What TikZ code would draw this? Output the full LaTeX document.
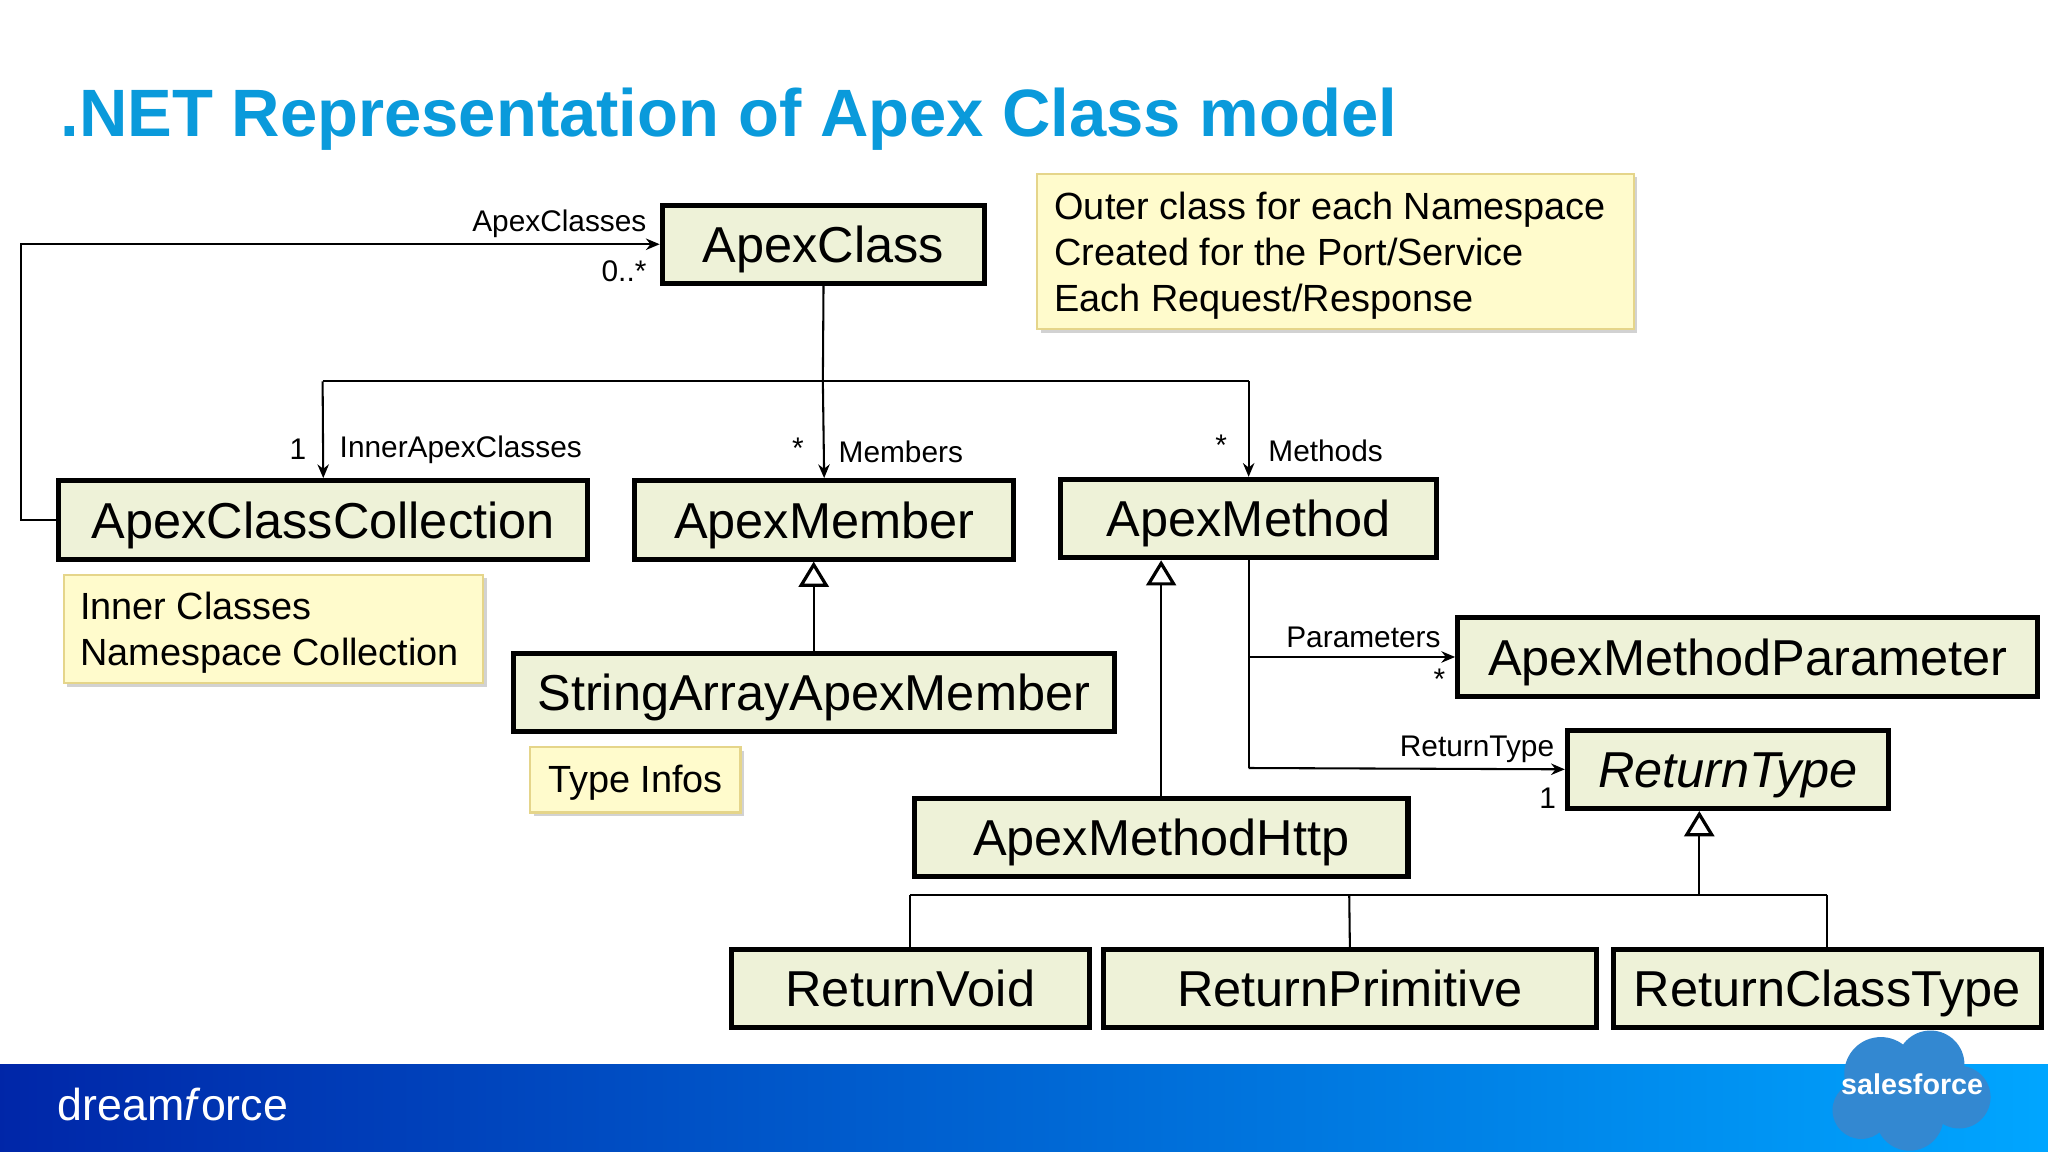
\documentclass[tikz,border=0pt]{standalone}
\usepackage{fontspec}
\setmainfont{Liberation Sans}
\usetikzlibrary{arrows.meta,shadows}
\definecolor{boxfill}{HTML}{EEF2D8}
\definecolor{notefill}{HTML}{FFFBCC}
\definecolor{noteline}{HTML}{E5D58A}
\definecolor{titleblue}{HTML}{0A9ADB}
\tikzset{
  umlbox/.style 2 args={draw=black, line width=2.2pt, fill=boxfill, inner sep=0pt,
     minimum width={#1*0.02cm}, minimum height={#2*0.02cm}, font=\fontsize{22}{26}\selectfont,
     text height=20.5pt, text depth=4.6pt},
  notebox/.style 2 args={draw=noteline, line width=1pt, fill=notefill, inner sep=0pt,
     minimum width={#1*0.02cm}, minimum height={#2*0.02cm}, font=\fontsize{16.5}{20}\selectfont,
     drop shadow={shadow xshift=1.5pt, shadow yshift=-1.5pt, opacity=0.35}},
  conn/.style={line width=0.9pt, draw=black},
  arr/.style={conn, -{Stealth[length=6pt,width=5pt]}},
  inh/.style={conn, -{Triangle[open,length=11pt,width=13pt,line width=1.4pt]}},
  lbl/.style={font=\fontsize{13}{15}\selectfont, inner sep=1pt}
}
\begin{document}
\begin{tikzpicture}[x=0.02cm,y=0.02cm]
\useasboundingbox (0,0) rectangle (1568,-882);
\fill[white] (0,0) rectangle (1568,-882);
% title
\node[anchor=west, text=titleblue, font=\bfseries\fontsize{29.2}{34}\selectfont, inner sep=0] (title) at (46,-91) {.NET Representation of Apex Class model};
% boxes
\node[umlbox={247}{60}] (ac) at (630.5,-187) {ApexClass};
\node[umlbox={405}{60}] (acc) at (247.5,-398) {ApexClassCollection};
\node[umlbox={290}{60}] (am) at (631,-398) {ApexMember};
\node[umlbox={288}{60}] (ameth) at (956,-397) {ApexMethod};
\node[umlbox={460}{60}] (sam) at (623,-530) {StringArrayApexMember};
\node[umlbox={444}{60}] (amp) at (1338,-503) {ApexMethodParameter};
\node[umlbox={246}{60}, font=\itshape\fontsize{22}{26}\selectfont] (rt) at (1323,-589) {ReturnType};
\node[umlbox={378}{60}] (amh) at (889,-641) {ApexMethodHttp};
\node[umlbox={274}{60}] (rv) at (697,-757) {ReturnVoid};
\node[umlbox={377}{60}] (rp) at (1033.5,-757) {ReturnPrimitive};
\node[umlbox={328}{60}] (rct) at (1399,-757) {ReturnClassType};
% notes
\node[notebox={457}{119}] (n1) at (1022.5,-192.5) {};
\node[anchor=north west, align=left, inner sep=0, font=\fontsize{16.5}{20}\selectfont] (n1t) at (807,-147) {Outer class for each Namespace\\Created for the Port/Service\\Each Request/Response};
\node[notebox={321}{83}] (n2) at (209.5,-481.5) {};
\node[anchor=north west, align=left, inner sep=0, font=\fontsize{16.5}{20}\selectfont] (n2t) at (61,-453) {Inner Classes\\Namespace Collection};
\node[notebox={161}{50}, text height=15pt, text depth=3.5pt] (n3) at (486.5,-597) {Type Infos};
% coordinates
\coordinate (j1) at (630,-292);
\coordinate (jl) at (247,-292);
\coordinate (jr) at (956,-292);
\coordinate (lp1) at (16,-398);
\coordinate (lp2) at (16,-187);
\coordinate (mb) at (956,-588);
\coordinate (mp) at (956,-503);
\coordinate (rtb) at (1301,-685);
\coordinate (hl) at (697,-685);
\coordinate (hm) at (1033,-685);
\coordinate (hr) at (1399,-685);
% connectors
\draw[conn] (ac.south) -- (j1);
\draw[conn] (jl) -- (jr);
\draw[arr] (jl) -- (acc.north);
\draw[arr] (j1) -- (am.north);
\draw[arr] (jr) -- (ameth.north);
\draw[arr] (acc.west) -- (lp1) -- (lp2) -- (ac.west);
\draw[inh] (sam.north) -- (sam.north |- am.south);
\draw[inh] (amh.north) -- (amh.north |- ameth.south);
\draw[conn] (ameth.south) -- (mb);
\draw[arr] (mp) -- (amp.west);
\draw[arr] (mb) -- (rt.west);
\draw[inh] (rtb) -- (rtb |- rt.south);
\draw[conn] (hl) -- (hr);
\draw[conn] (hl) -- (rv.north);
\draw[conn] (hm) -- (rp.north);
\draw[conn] (hr) -- (rct.north);
% labels
\node[lbl, anchor=east] (l1) at (497,-171) {ApexClasses};
\node[lbl, anchor=east] (l2) at (497,-208) {0..*};
\node[lbl] (l3) at (228,-344) {1};
\node[lbl, anchor=west] (l4) at (258,-344) {InnerApexClasses};
\node[lbl] (l5) at (611,-343) {*};
\node[lbl, anchor=west] (l6) at (640,-346) {Members};
\node[lbl] (l7) at (935,-341) {*};
\node[lbl, anchor=west] (l8) at (969,-345) {Methods};
\node[lbl, anchor=east] (l9) at (1105,-488) {Parameters};
\node[lbl] (l10) at (1102,-520) {*};
\node[lbl, anchor=east] (l11) at (1192,-574) {ReturnType};
\node[lbl] (l12) at (1185,-611) {1};
% footer
\shade[left color=blue!60!black!85!cyan, right color=cyan!65!blue] (0,-815) rectangle (1568,-882);
\node[anchor=west, text=white, font=\fontsize{19.5}{22}\selectfont, inner sep=0] (df) at (44,-846) {dream\textit{f}orce};
\fill[cyan!60!blue!85] (1440,-822) circle (28) (1478,-815) circle (26) (1500,-840) circle (24) (1462,-855) circle (26) (1425,-850) circle (22);
\node[text=white, font=\bfseries\fontsize{12.5}{15}\selectfont] (sf) at (1464,-830) {salesforce};
\end{tikzpicture}
\end{document}
